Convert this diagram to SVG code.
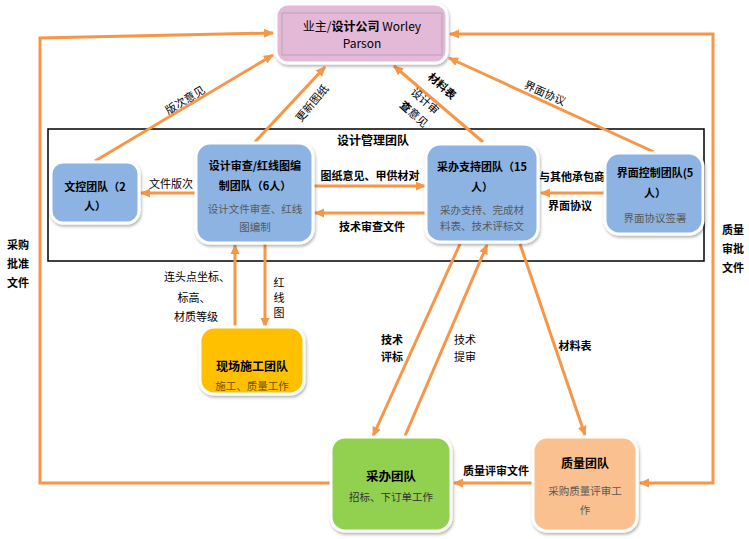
<svg xmlns="http://www.w3.org/2000/svg" width="749" height="539" viewBox="0 0 749 539">
<style>
text{font-family:"Noto Sans CJK SC","Liberation Sans",sans-serif;fill:#000;text-anchor:middle}
.t{font-size:11px;font-weight:bold}
.s{font-size:10.5px;fill:#595959}
.l{font-size:11px}
.b{font-size:11px;font-weight:bold}
.box{stroke:#fff;stroke-width:3;filter:url(#sh)}
.c{fill:none;stroke:#f79646;stroke-width:3}
.a{marker-end:url(#ah)}
.r{marker-start:url(#ah)}
</style>
<defs>
<filter id="sh" x="-10%" y="-10%" width="130%" height="130%"><feDropShadow dx="1" dy="2" stdDeviation="1.5" flood-color="#000" flood-opacity="0.3"/></filter>
<marker id="ah" viewBox="0 0 10 10" refX="9" refY="5" markerWidth="10" markerHeight="10" markerUnits="userSpaceOnUse" orient="auto-start-reverse"><path d="M0,0.5 L10,5 L0,9.5 z" fill="#f79646"/></marker>
</defs>
<rect width="749" height="539" fill="#fff"/>

<g id="frame">
<rect x="48" y="129" width="656" height="132" fill="none" stroke="#000" stroke-width="1.5"/>
<text class="b" x="373" y="145" style="font-size:12px">设计管理团队</text>
</g>

<g id="connectors">
<polyline class="c a" points="330,483 40,483 40,38 273,33"/>
<polyline class="c a r" points="450,34 713,34 713,483 640,483"/>
<line class="c a" x1="95" y1="161" x2="273" y2="55"/>
<line class="c a" x1="255" y1="142" x2="325" y2="67"/>
<line class="c a" x1="483" y1="142" x2="394" y2="66"/>
<line class="c a" x1="654" y1="152" x2="449" y2="58"/>
<line class="c a" x1="196" y1="193" x2="141" y2="193"/>
<line class="c a" x1="313" y1="186" x2="425" y2="186"/>
<line class="c a" x1="425" y1="213" x2="315" y2="213"/>
<line class="c a" x1="604" y1="193" x2="541" y2="193"/>
<line class="c a" x1="235" y1="326" x2="235" y2="245"/>
<line class="c a" x1="265" y1="244" x2="265" y2="327"/>
<line class="c a" x1="460" y1="244" x2="373" y2="436"/>
<line class="c a" x1="405" y1="436" x2="487" y2="245"/>
<line class="c a" x1="520" y1="244" x2="585" y2="435"/>
<line class="c a" x1="532" y1="483" x2="454" y2="483"/>

<text class="b" x="18" y="249">采购</text>
<text class="b" x="18" y="268">批准</text>
<text class="b" x="18" y="287">文件</text>
<text class="b" x="733" y="234">质量</text>
<text class="b" x="733" y="253">审批</text>
<text class="b" x="733" y="272">文件</text>
<text class="l" x="185" y="104" transform="rotate(-31 185 100)">版次意见</text>
<text class="l" x="312" y="107" transform="rotate(-50 312 103)">更新图纸</text>
<text class="b" x="442" y="90" transform="rotate(42 442 86)">材料表</text>
<text class="l" x="425" y="105" transform="rotate(42 425 101)">设计审</text>
<text class="l" x="414" y="118" transform="rotate(42 414 114)"><tspan font-weight="bold">查</tspan>意见</text>
<text class="l" x="545" y="97" transform="rotate(24 545 93)">界面协议</text>
<text class="l" x="171" y="188">文件版次</text>
<text class="b" x="370" y="180">图纸意见、甲供材对</text>
<text class="b" x="372" y="231">技术审查文件</text>
<text class="b" x="572" y="181">与其他承包商</text>
<text class="b" x="570" y="210">界面协议</text>
<text class="l" x="197" y="281">连头点坐标、</text>
<text class="l" x="194" y="302">标高、</text>
<text class="l" x="196" y="321">材质等级</text>
<text class="l" x="279" y="287">红</text>
<text class="l" x="279" y="302">线</text>
<text class="l" x="279" y="317">图</text>
<text class="b" x="392" y="344">技术</text>
<text class="b" x="392" y="361">评标</text>
<text class="l" x="465" y="344">技术</text>
<text class="l" x="465" y="361">提审</text>
<text class="b" x="575" y="350">材料表</text>
<text class="b" x="496" y="475">质量评审文件</text>
</g>

<g id="owner">
<rect class="box" x="276" y="4" width="171" height="59" rx="12" fill="#e4b8d7"/>
<rect x="282" y="13" width="160" height="42" fill="none" stroke="#b9a3b3" stroke-width="1"/>
<text x="362" y="31" style="font-size:12px">业主/<tspan font-weight="bold">设计公司</tspan> Worley</text>
<text x="362" y="48" style="font-size:12px">Parson</text>
</g>

<g id="doc-control">
<rect class="box" x="51" y="162" width="88" height="61" rx="12" fill="#8db3e2"/>
<text class="t" x="95" y="191">文控团队（2</text>
<text class="t" x="95" y="210">人）</text>
</g>

<g id="design-review">
<rect class="box" x="196" y="143" width="117" height="100" rx="14" fill="#8db3e2"/>
<text class="t" x="255" y="170">设计审查/红线图编</text>
<text class="t" x="255" y="190">制团队（6人）</text>
<text class="s" x="255" y="213">设计文件审查、红线</text>
<text class="s" x="255" y="231">图编制</text>
</g>

<g id="proc-support">
<rect class="box" x="426" y="144" width="112" height="98" rx="14" fill="#8db3e2"/>
<text class="t" x="482" y="171">采办支持团队（15</text>
<text class="t" x="482" y="191">人）</text>
<text class="s" x="482" y="214">采办支持、完成材</text>
<text class="s" x="482" y="230">料表、技术评标文</text>
</g>

<g id="interface">
<rect class="box" x="605" y="153" width="98" height="81" rx="14" fill="#8db3e2"/>
<text class="t" x="655" y="177">界面控制团队(5</text>
<text class="t" x="655" y="197">人）</text>
<text class="s" x="655" y="222">界面协议签署</text>
</g>

<g id="site">
<rect class="box" x="200" y="327" width="104" height="67" rx="14" fill="#ffc000"/>
<text class="t" x="252" y="371" style="font-size:12px">现场施工团队</text>
<text class="s" x="252" y="390" style="fill:#6b5200">施工、质量工作</text>
</g>

<g id="procurement">
<rect class="box" x="331" y="437" width="120" height="94" rx="14" fill="#92d050"/>
<text class="t" x="391" y="481" style="font-size:12.5px">采办团队</text>
<text class="s" x="391" y="501" style="fill:#333">招标、下订单工作</text>
</g>

<g id="quality">
<rect class="box" x="533" y="437" width="104" height="94" rx="14" fill="#fac090"/>
<text class="t" x="585" y="468" style="font-size:12px">质量团队</text>
<text class="s" x="585" y="495">采购质量评审工</text>
<text class="s" x="585" y="514">作</text>
</g>
</svg>
